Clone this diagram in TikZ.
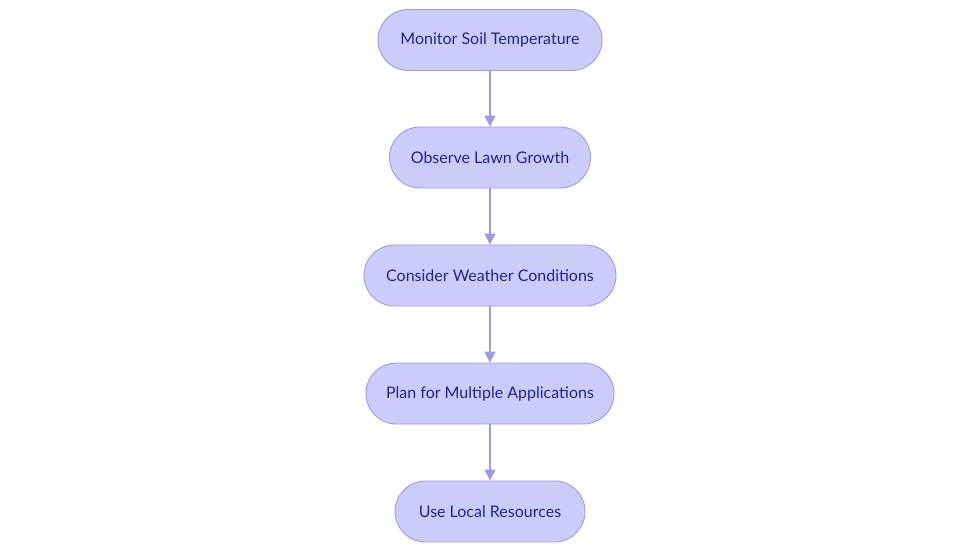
\documentclass[tikz,border=0pt]{standalone}
\usepackage{fontspec}
\setmainfont{Lato}
\usetikzlibrary{arrows.meta}
\definecolor{boxfill}{HTML}{CCCCFA}
\definecolor{boxdraw}{HTML}{9C9CE6}
\definecolor{txt}{HTML}{1C2590}
\definecolor{arr}{HTML}{9A9AE6}
\begin{document}
\begin{tikzpicture}[x=1pt,y=-1pt,
  pill/.style={draw=boxdraw, fill=boxfill, line width=0.9pt, rounded corners=30.5pt,
    minimum height=61pt, inner xsep=4pt, text=txt, font=\fontsize{16}{20}\selectfont},
  conn/.style={draw=arr, line width=1.6pt, -{Triangle[length=11pt,width=11pt]}}]
\useasboundingbox (0,0) rectangle (980,553);
\fill[white] (0,0) rectangle (980,553);
\node[pill, minimum width=224pt] (a) at (490,40) {Monitor Soil Temperature};
\node[pill, minimum width=201pt] (b) at (490,157.5) {Observe Lawn Growth};
\node[pill, minimum width=252pt] (c) at (490,275.5) {Consider Weather Conditions};
\node[pill, minimum width=248pt] (d) at (490,393.5) {Plan for Multiple Applications};
\node[pill, minimum width=190pt] (e) at (490,511.5) {Use Local Resources};
\draw[conn] (a) -- (b);
\draw[conn] (b) -- (c);
\draw[conn] (c) -- (d);
\draw[conn] (d) -- (e);
\end{tikzpicture}
\end{document}
